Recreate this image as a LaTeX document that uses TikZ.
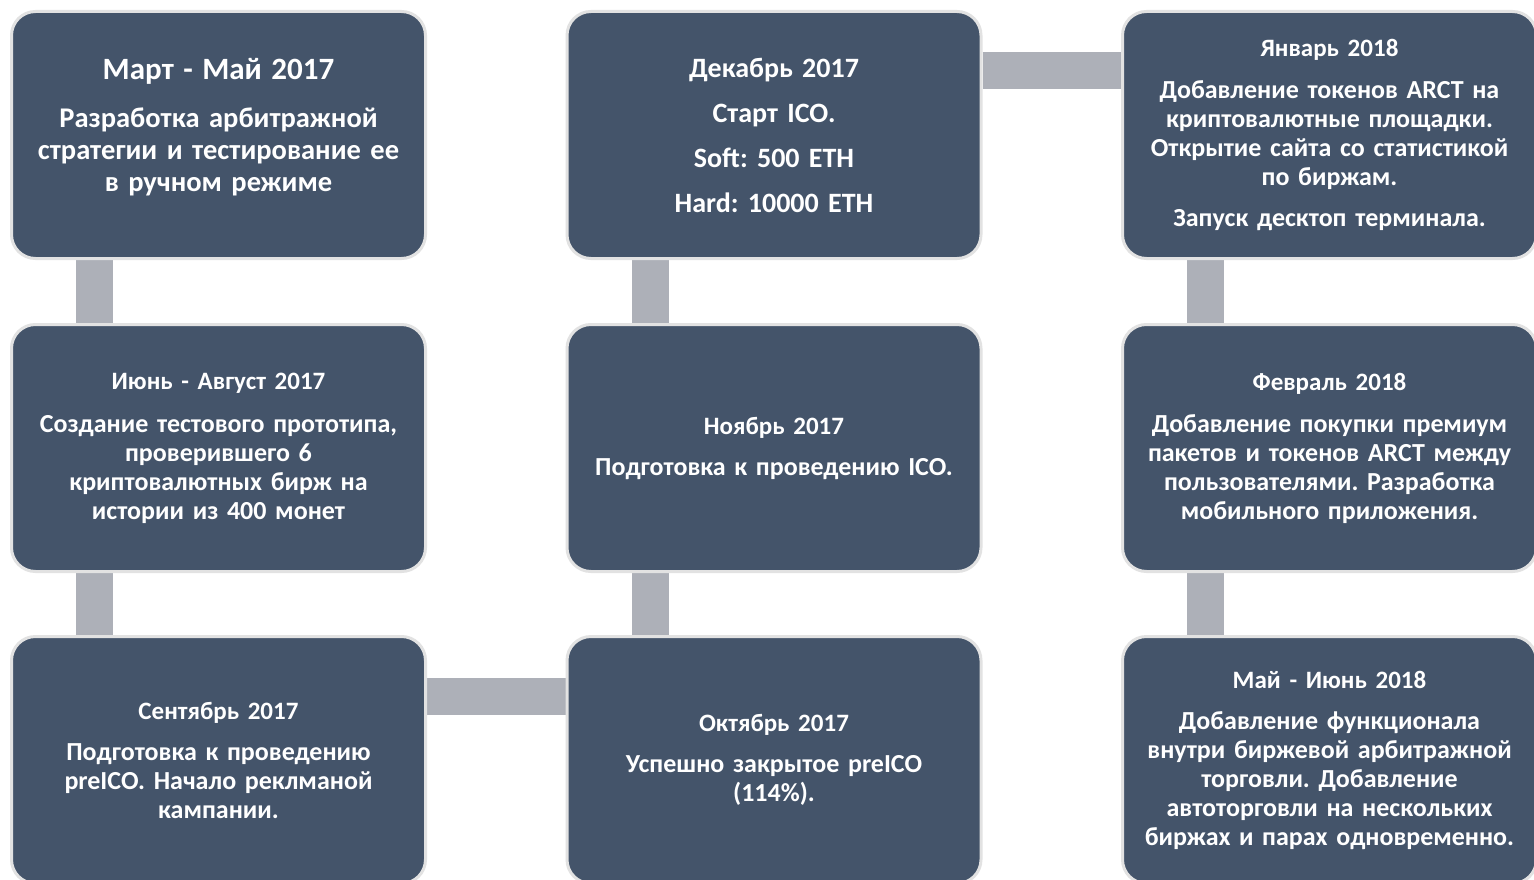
\documentclass[tikz,border=0pt]{standalone}
\usepackage{fontspec}
\setmainfont{Carlito}
\usetikzlibrary{positioning, backgrounds}
\definecolor{slate}{HTML}{44546A}
\definecolor{bargray}{HTML}{ADB0B8}
\definecolor{rim}{HTML}{E2E2E2}
\frenchspacing
\begin{document}
\begin{tikzpicture}[x=1pt, y=-1pt,
  stage/.style={draw=rim, line width=3pt, fill=slate, rounded corners=24pt,
    minimum width=414pt, minimum height=247pt, text=white, align=center,
    text width=406pt, font=\bfseries\fontsize{26}{29}\selectfont},
  link/.style={draw=bargray, line width=37pt}]
  \useasboundingbox (0,0) rectangle (1534,880);
  % first row
  \node[stage, font=\bfseries\fontsize{28.5}{32}\selectfont, text height=5pt] (marmay) at (218.5,135)
    {{\fontsize{31}{32}\selectfont Март - Май 2017}\\[16pt]
     Разработка арбитражной\\ стратегии и тестирование ее\\ в ручном режиме};
  \node[stage, font=\bfseries\fontsize{28}{32}\selectfont] (dec) at (774,135)
    {Декабрь 2017\\[13pt] Старт ICO.\\[13pt] Soft: 500 ETH\\[13pt] Hard: 10000 ETH};
  \node[stage] (jan) at (1329.5,135)
    {{\fontsize{25}{29}\selectfont Январь 2018}\\[13pt]
     Добавление токенов ARCT на\\ криптовалютные площадки.\\
     Открытие сайта со статистикой\\ по биржам.\\[12pt] Запуск десктоп терминала.};
  % second row
  \node[stage] (junaug) at (218.5,448)
    {{\fontsize{25}{29}\selectfont Июнь - Август 2017}\\[14pt]
     Создание тестового прототипа,\\ проверившего 6\\ криптовалютных бирж на\\ истории из 400 монет};
  \node[stage] (nov) at (774,448)
    {{\fontsize{25}{29}\selectfont Ноябрь 2017}\\[12pt] Подготовка к проведению ICO.};
  \node[stage] (feb) at (1329.5,448)
    {{\fontsize{25}{29}\selectfont Февраль 2018}\\[13pt]
     Добавление покупки премиум\\ пакетов и токенов ARCT между\\
     пользователями. Разработка\\ мобильного приложения.};
  % third row
  \node[stage] (sep) at (218.5,760)
    {{\fontsize{25}{29}\selectfont Сентябрь 2017}\\[12pt]
     Подготовка к проведению\\ preICO. Начало реклманой\\ кампании.};
  \node[stage] (oct) at (774,760)
    {{\fontsize{25}{29}\selectfont Октябрь 2017}\\[12pt] Успешно закрытое preICO\\ (114\%).};
  \node[stage] (mayjun) at (1329.5,760)
    {{\fontsize{25}{29}\selectfont Май - Июнь 2018}\\[12pt]
     Добавление функционала\\ внутри биржевой арбитражной\\ торговли. Добавление\\
     автоторговли на нескольких\\ биржах и парах одновременно.};
  \begin{scope}[on background layer]
    \fill[white] (0,0) rectangle (1534,880);
    \draw[link] ([xshift=-124pt]marmay.south) -- ([xshift=-124pt]junaug.north);
    \draw[link] ([xshift=-124pt]junaug.south) -- ([xshift=-124pt]sep.north);
    \draw[link] ([yshift=63.5pt]sep.east) -- ([yshift=63.5pt]oct.west);
    \draw[link] ([xshift=-124pt]oct.north) -- ([xshift=-124pt]nov.south);
    \draw[link] ([xshift=-124pt]nov.north) -- ([xshift=-124pt]dec.south);
    \draw[link] ([yshift=64.5pt]dec.east) -- ([yshift=64.5pt]jan.west);
    \draw[link] ([xshift=-124pt]jan.south) -- ([xshift=-124pt]feb.north);
    \draw[link] ([xshift=-124pt]feb.south) -- ([xshift=-124pt]mayjun.north);
  \end{scope}
\end{tikzpicture}
\end{document}
